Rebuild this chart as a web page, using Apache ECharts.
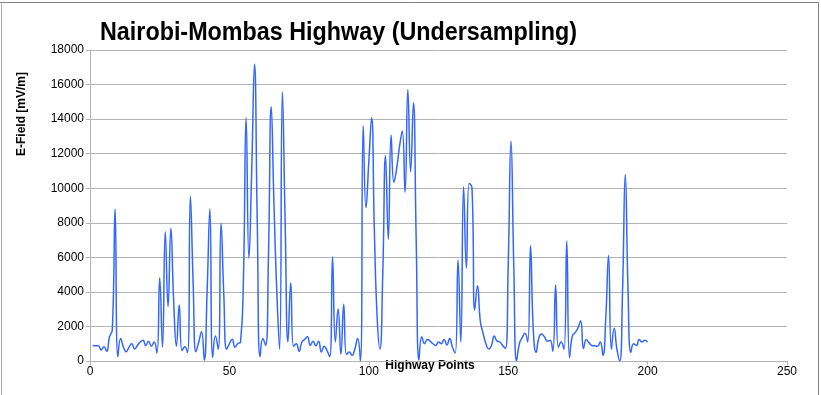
<!DOCTYPE html>
<html>
<head>
<meta charset="utf-8">
<script src="https://cdn.jsdelivr.net/npm/echarts@6/dist/echarts.min.js"></script>
<style>
html,body{margin:0;padding:0;background:#fff;}
#chart{width:821px;height:395px;}
</style>
</head>
<body>
<div id="chart"></div>
<script>
// E-field values along the highway, one per highway point (points 1..200)
var efield = [
  900, 880, 880, 640, 820, 560, 1400, 1800, 8800, 250,
  1300, 800, 540, 800, 1000, 700, 900, 1100, 1200, 900,
  1150, 860, 1100, 460, 4820, 800, 7480, 3140, 7680, 3500,
  860, 3240, 600, 830, 500, 9530, 4500, 530, 1100, 1700,
  50, 4000, 8800, 200, 1450, 680, 7970, 3800, 680, 1000,
  1260, 800, 1000, 1100, 4500, 14080, 5940, 11000, 17170, 8000,
  250, 1300, 900, 6000, 14720, 9000, 4000, 680, 15590, 8000,
  1100, 4530, 860, 1000, 560, 1100, 1250, 1400, 900, 1150,
  880, 1150, 520, 850, 600, 250, 6040, 1100, 3010, 390,
  3280, 370, 520, 330, 700, 1300, 0, 13620, 8870, 11500,
  14080, 7500, 2500, 690, 5000, 11880, 7040, 13080, 10340, 11150,
  12400, 13310, 9760, 15720, 10960, 14950, 7000, 50, 1400, 1000,
  1250, 1150, 1000, 900, 1100, 1000, 1250, 920, 1300, 800,
  460, 5850, 1100, 10090, 5370, 10280, 10030, 2950, 4360, 2300,
  1600, 1000, 700, 900, 1450, 1150, 1100, 900, 720, 5500,
  12730, 5500, 0, 1000, 1350, 1600, 1100, 6670, 1800, 500,
  1350, 1560, 1400, 1150, 1200, 560, 4400, 800, 1100, 680,
  6950, 200, 1450, 1640, 1900, 2330, 720, 1250, 1050, 900,
  880, 860, 1100, 330, 2500, 6100, 680, 1890, 680, 0,
  4000, 10800, 4000, 500, 1000, 900, 1250, 1100, 1200, 1100
];
var firstPoint = 1;
var xTicks = [0, 50, 100, 150, 200, 250];
var yTicks = [0, 2000, 4000, 6000, 8000, 10000, 12000, 14000, 16000, 18000];
var titleText = 'Nairobi-Mombas Highway (Undersampling)';
var xName = 'Highway Points';
var yName = 'E-Field [mV/m]';

var seriesData = efield.map(function (v, i) { return [i + firstPoint, v]; });

// narrow bold title: scale Liberation Sans Bold horizontally to the target width
var titleFont = 'bold 26px "Liberation Sans"';
var mctx = document.createElement('canvas').getContext('2d');
mctx.font = titleFont;
var titleScale = 477 / mctx.measureText(titleText).width;

var chart = echarts.init(document.getElementById('chart'), null, {renderer: 'canvas'});
var labelFont = {fontFamily: 'Liberation Sans', fontSize: 12, color: '#000'};
chart.setOption({
  animation: false,
  backgroundColor: '#fff',
  grid: {left: 90, right: 34, top: 50, bottom: 34, containLabel: false},
  xAxis: {
    type: 'value', min: xTicks[0], max: xTicks[xTicks.length - 1], interval: 50,
    axisLine: {show: true, lineStyle: {color: '#b3b3b3', width: 1}},
    axisTick: {show: true, length: 4, lineStyle: {color: '#b3b3b3'}},
    splitLine: {show: false},
    axisLabel: Object.assign({margin: 5, formatter: function (v) { return String(v); }}, labelFont)
  },
  yAxis: {
    type: 'value', min: yTicks[0], max: yTicks[yTicks.length - 1], interval: 2000,
    axisLine: {show: true, lineStyle: {color: '#b3b3b3', width: 1}},
    axisTick: {show: true, length: 4, lineStyle: {color: '#b3b3b3'}},
    splitLine: {show: true, lineStyle: {color: '#b3b3b3', width: 1}},
    axisLabel: Object.assign({margin: 6, formatter: function (v) { return String(v); }}, labelFont)
  },
  graphic: [
    {type: 'line', shape: {x1: 0, y1: 2.5, x2: 818.5, y2: 2.5}, style: {stroke: '#808080', lineWidth: 1}, silent: true},
    {type: 'line', shape: {x1: 1.5, y1: 2.5, x2: 1.5, y2: 395}, style: {stroke: '#b0b0b0', lineWidth: 1}, silent: true},
    {type: 'line', shape: {x1: 818.5, y1: 2.5, x2: 818.5, y2: 395}, style: {stroke: '#808080', lineWidth: 1}, silent: true},
    {
      type: 'text', x: 100, y: 33, scaleX: titleScale, scaleY: 1,
      style: {text: titleText, fontFamily: 'Liberation Sans', fontWeight: 'bold', fontSize: 26, fill: '#000', align: 'left', verticalAlign: 'middle'}
    },
    {
      type: 'text', x: 22, y: 114, rotation: Math.PI / 2,
      style: {text: yName, fontFamily: 'Liberation Sans', fontWeight: 'bold', fontSize: 12, fill: '#000', align: 'center', verticalAlign: 'middle'}
    },
    {
      type: 'text', x: 430, y: 366,
      style: {text: xName, fontFamily: 'Liberation Sans', fontWeight: 'bold', fontSize: 12, fill: '#000', align: 'center', verticalAlign: 'middle'}
    }
  ],
  series: [{
    type: 'line',
    data: seriesData,
    showSymbol: false,
    smooth: 0.5,
    lineStyle: {color: '#3366ff', width: 1.5},
    itemStyle: {color: '#3366ff'}
  }]
});
</script>
</body>
</html>
